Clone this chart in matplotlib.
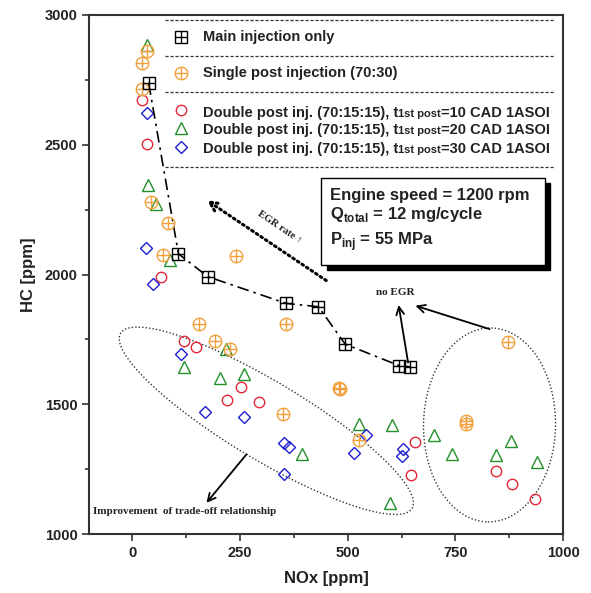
import matplotlib
matplotlib.use("Agg")
import matplotlib.pyplot as plt
from matplotlib.patches import Ellipse, Rectangle
from matplotlib.transforms import ScaledTranslation

plt.rcParams['font.family'] = ['Liberation Sans', 'DejaVu Sans']
plt.rcParams['mathtext.fontset'] = 'custom'
plt.rcParams['mathtext.bf'] = 'Liberation Sans:bold'
plt.rcParams['mathtext.rm'] = 'Liberation Sans'

# ---- data (NOx [ppm], HC [ppm]) ----
main_nox = [38, 107, 175, 357, 432, 494, 620, 644]
main_hc = [2736, 2080, 1992, 1889, 1876, 1732, 1649, 1645]

single_nox = [35, 22, 22, 44, 83, 71, 241, 154, 357, 193, 226, 349, 479, 483, 871, 775, 775, 525]
single_hc = [2862, 2813, 2713, 2279, 2200, 2077, 2073, 1810, 1810, 1743, 1715, 1465, 1563, 1559,
             1739, 1436, 1426, 1362]

post10_nox = [22, 33, 67, 121, 147, 252, 220, 293, 657, 647, 843, 881, 935]
post10_hc = [2672, 2502, 1992, 1745, 1722, 1568, 1517, 1511, 1355, 1230, 1243, 1192, 1136]

post20_nox = [35, 37, 56, 88, 121, 203, 258, 217, 393, 527, 602, 597, 699, 742, 843, 879, 939]
post20_hc = [2884, 2344, 2273, 2057, 1645, 1600, 1617, 1713, 1310, 1426, 1420, 1121, 1382, 1310,
             1305, 1359, 1278]

post30_nox = [34, 32, 48, 114, 169, 258, 352, 363, 352, 543, 514, 629, 626]
post30_hc = [2623, 2103, 1964, 1696, 1472, 1453, 1352, 1336, 1233, 1381, 1314, 1327, 1301]

C_RED = "#e0283a"
C_GREEN = "#23902a"
C_BLUE = "#1e1ed2"
C_ORANGE = "#f0a03c"
C_INK = "#222222"
SERIF = ['Liberation Serif', 'DejaVu Serif']

fig = plt.figure(figsize=(5.91, 5.93), dpi=100)
ax = fig.add_axes([0.151, 0.099, 0.802, 0.876])


def cross_marker(x, y, color, m, ms, **kw):
    ax.plot(x, y, ls="none", marker=m, ms=ms, mfc="none", mec=color, mew=1.0, **kw)
    ax.plot(x, y, ls="none", marker="+", ms=ms, mec=color, mew=1.0, **kw)


ax.plot(main_nox, main_hc, color="black", lw=1.2, ls=(0, (7, 3, 1.5, 3)), zorder=3)
cross_marker(main_nox, main_hc, "black", "s", 8, zorder=4)
cross_marker(single_nox, single_hc, C_ORANGE, "o", 9, zorder=3)
ax.plot(post10_nox, post10_hc, ls="none", marker="o", ms=7.5, mfc="none", mec=C_RED, mew=1.0)
ax.plot(post20_nox, post20_hc, ls="none", marker="^", ms=8.5, mfc="none", mec=C_GREEN, mew=1.0)
ax.plot(post30_nox, post30_hc, ls="none", marker="D", ms=6.5, mfc="none", mec=C_BLUE, mew=1.0)

# dotted ellipses (sizes in inches, centred on data points)
for (cx, cy), w, h, ang in (((311, 1437), 3.40, 0.78, -31), ((829, 1421), 1.32, 1.94, -1)):
    tr = fig.dpi_scale_trans + ScaledTranslation(cx, cy, ax.transData)
    ax.add_patch(Ellipse((0, 0), w, h, angle=ang, transform=tr, fill=False,
                         ec="#333333", lw=1.0, ls=(0, (1, 1.5))))

# annotations
arrow = dict(arrowstyle="->", color="black", lw=1.3, shrinkA=0, shrinkB=0,
             mutation_scale=14)
ax.annotate("", xy=(172, 1121), xytext=(265, 1308), arrowprops=arrow)
ax.annotate("", xy=(618, 1883), xytext=(640, 1661), arrowprops=arrow)
ax.annotate("", xy=(657, 1880), xytext=(829, 1790), arrowprops=arrow)
ax.annotate("", xy=(173, 2286), xytext=(450, 1977),
            arrowprops=dict(arrowstyle="->", color="black", lw=2.2, ls=(0, (0.6, 1.2)),
                            shrinkA=0, shrinkB=0, mutation_scale=16))
ax.text(610, 1932, "no EGR", family=SERIF, fontweight="bold", fontsize=8,
        ha="center", va="center", color=C_INK)
ax.text(342, 2182, "EGR rate \u2191", family=SERIF, fontweight="bold", fontsize=7.5,
        rotation=-34, ha="center", va="center", color=C_INK)
ax.text(-92, 1086, "Improvement  of trade-off relationship", family=SERIF,
        fontweight="bold", fontsize=8, ha="left", va="center", color=C_INK)

# legend drawn by hand with dashed separators
for yy in (0.990, 0.921, 0.851, 0.708):
    ax.plot([0.160, 0.982], [yy, yy], transform=ax.transAxes, color="#333333",
            lw=0.9, ls=(0, (2.5, 1.5)))
lx, tx = 0.1935, 0.2405
leg_fs = 10.5
ax.plot([lx], [0.958], transform=ax.transAxes, ls="none", marker="s", ms=8,
        mfc="none", mec="black", mew=1.0)
ax.plot([lx], [0.958], transform=ax.transAxes, ls="none", marker="+", ms=8,
        mec="black", mew=1.0)
ax.text(tx, 0.958, "Main injection only", transform=ax.transAxes, fontsize=leg_fs,
        fontweight="bold", va="center", color=C_INK)
ax.plot([lx], [0.888], transform=ax.transAxes, ls="none", marker="o", ms=9,
        mfc="none", mec=C_ORANGE, mew=1.0)
ax.plot([lx], [0.888], transform=ax.transAxes, ls="none", marker="+", ms=9,
        mec=C_ORANGE, mew=1.0)
ax.text(tx, 0.888, "Single post injection (70:30)", transform=ax.transAxes,
        fontsize=leg_fs, fontweight="bold", va="center", color=C_INK)

rows = [(0.816, "o", 7.5, C_RED, "10"), (0.782, "^", 8.5, C_GREEN, "20"),
        (0.746, "D", 6.5, C_BLUE, "30")]
for yy, m, ms, col, cad in rows:
    ax.plot([lx], [yy], transform=ax.transAxes, ls="none", marker=m, ms=ms,
            mfc="none", mec=col, mew=1.0)
    base = yy - 0.012
    t1 = ax.text(tx, base, "Double post inj. (70:15:15), t", transform=ax.transAxes,
                 fontsize=leg_fs, fontweight="bold", va="baseline", color=C_INK)
    t2 = ax.annotate("1st post", xy=(1, base), xycoords=(t1, ax.transAxes),
                     fontsize=8, fontweight="bold", va="baseline", color=C_INK)
    ax.annotate(f"={cad} CAD 1ASOI", xy=(1, base), xycoords=(t2, ax.transAxes),
                fontsize=leg_fs, fontweight="bold", va="baseline", color=C_INK)

# condition box with drop shadow
bx0, by0, bw, bh = 0.490, 0.519, 0.471, 0.167
ax.add_patch(Rectangle((bx0 + 0.011, by0 - 0.010), bw, bh, transform=ax.transAxes,
                       fc="black", ec="black", zorder=5))
ax.add_patch(Rectangle((bx0, by0), bw, bh, transform=ax.transAxes, fc="white",
                       ec="black", lw=1.0, zorder=6))
box_fs = 12
ax.text(0.509, 0.653, "Engine speed = 1200 rpm", transform=ax.transAxes, fontsize=box_fs,
        fontweight="bold", va="center", color=C_INK, zorder=7)
ax.text(0.509, 0.606, r"$\mathbf{Q}_{\mathbf{total}}$ = 12 mg/cycle", transform=ax.transAxes,
        fontsize=box_fs, fontweight="bold", va="baseline", color=C_INK, zorder=7)
ax.text(0.509, 0.556, r"$\mathbf{P}_{\mathbf{inj}}$ = 55 MPa", transform=ax.transAxes,
        fontsize=box_fs, fontweight="bold", va="baseline", color=C_INK, zorder=7)

# axes styling
ax.set_xlim(-100, 1000)
ax.set_ylim(1000, 3000)
ax.set_xticks([0, 250, 500, 750, 1000])
ax.set_xticks([125, 375, 625, 875], minor=True)
ax.set_yticks([1000, 1500, 2000, 2500, 3000])
ax.set_yticks([1250, 1750, 2250, 2750], minor=True)
ax.tick_params(which="both", direction="out", top=False, right=False, colors="#333333",
               labelcolor=C_INK, labelsize=10.5, width=1.2)
ax.tick_params(which="major", length=5)
ax.tick_params(which="minor", length=3)
for lab in ax.get_xticklabels() + ax.get_yticklabels():
    lab.set_fontweight("bold")
for s in ax.spines.values():
    s.set_linewidth(1.5)
    s.set_color("#333333")
ax.set_xlabel("NOx [ppm]", fontsize=12, fontweight="bold", color=C_INK, labelpad=8)
ax.set_ylabel("HC [ppm]", fontsize=12, fontweight="bold", color=C_INK, labelpad=6)

fig.savefig("out.png", dpi=100)
